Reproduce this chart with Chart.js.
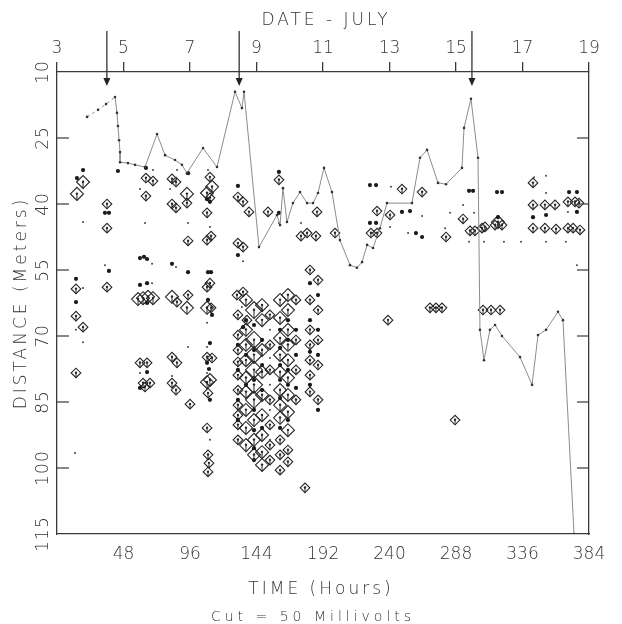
<!DOCTYPE html>
<html>
<head>
<meta charset="utf-8">
<script src="https://cdn.jsdelivr.net/npm/chart.js@4.4.0/dist/chart.umd.min.js"></script>
<style>
  html, body { margin: 0; padding: 0; background: #fff; }
  #wrap { width: 622px; height: 624px; }
</style>
</head>
<body>
<div id="wrap"><canvas id="c" width="622" height="624"></canvas></div>
<script>
// Axis ticks: hours since 00:00 on 3 July, calendar day, depth in metres
const hourTicks = [0, 48, 96, 144, 192, 240, 288, 336, 384];
const dateTicks = ['3', '5', '7', '9', '11', '13', '15', '17', '19'];
const distTicks = [10, 25, 40, 55, 70, 85, 100, 115];
const eventHours = [36, 131.5, 299.5];

// Continuous trace (hours, metres)
const traceHours = [21.7, 29.6, 35.4, 41.9, 43.3, 44.0, 44.8, 45.5, 45.5, 51.2, 56.3, 63.5, 72.2, 78.0, 85.2, 90.2, 93.8, 105.4, 115.5, 128.5, 133.5, 135.0, 145.8, 158.8, 161.0, 163.1, 166.0, 170.3, 175.4, 180.5, 184.8, 188.4, 192.7, 198.5, 204.2, 211.5, 216.5, 220.2, 223.8, 228.1, 233.1, 238.2, 256.2, 262.0, 267.1, 275.0, 280.8, 292.3, 293.8, 298.8, 303.9, 305.3, 308.2, 312.5, 316.2, 321.2, 334.2, 342.9, 347.2, 353.0, 361.6, 365.2, 373.2];
const traceDist = [20.2, 18.6, 17.3, 15.7, 19.3, 22.3, 25.5, 28.2, 30.5, 30.7, 31.1, 31.6, 24.1, 28.9, 30.0, 31.1, 33.0, 27.3, 31.6, 14.5, 18.2, 14.5, 49.8, 42.5, 44.8, 36.4, 44.1, 39.8, 37.3, 39.8, 39.8, 37.5, 31.8, 37.3, 48.2, 53.9, 54.5, 53.2, 49.3, 50.0, 45.5, 39.8, 39.8, 29.5, 27.7, 35.2, 35.5, 31.8, 22.7, 16.1, 29.5, 68.6, 75.5, 68.6, 67.5, 70.0, 74.8, 81.1, 69.8, 68.6, 64.5, 66.4, 115];

// Weak returns: [hour, metres]
const weakReturns = [
  [18.8,44.1],[18.8,59.1],[13.7,68.6],[18.8,71.4],[13.0,96.6],[34.6,53.9],[69.3,32.3],[59.9,36.6],[63.5,44.3],
  [68.6,53.6],[68.6,58.0],[59.9,78.4],[86.6,32.3],[81.6,36.6],[85.9,54.3],[83.0,79.1],[94.6,44.3],[94.6,72.5],
  [109.0,32.3],[110.4,45.2],[108.3,67.0],[108.3,72.5],[108.3,78.4],[134.3,53.0],[133.5,63.4],[160.2,44.3],
  [176.1,44.3],[240.4,45.2],[241.1,36.1],[253.4,46.6],[263.5,42.7],[280.1,45.5],[283.7,42.0],[293.1,40.2],
  [301.0,42.0],[344.3,33.9],[353.0,33.6],[353.0,37.5],[368.8,41.8],[110.4,93.6],
  [153.7,68.6],[153.7,75.0],[153.7,81.1],[153.7,86.8],[153.7,93.6],
  [297.4,48.6],[308.2,48.6],[322.6,48.6],[334.9,48.6],[352.9,48.6],[367.3,48.6],[375.3,53.9]
];

// Moderate returns: [hour, metres]
const moderateReturns = [
  [18.8,32.3],[14.4,34.1],[34.6,42.0],[37.5,42.0],[37.5,55.2],[44.0,32.5],[64.2,31.8],[59.9,52.3],[62.8,52.0],
  [65.0,52.5],[59.9,58.4],[65.0,58.0],[65.0,62.5],[65.0,78.2],[59.9,81.8],[13.7,57.0],[13.7,62.3],[83.0,53.6],
  [94.6,33.0],[94.6,55.5],[108.3,38.9],[110.4,39.5],[109.0,55.5],[111.2,55.5],[109.0,61.8],[111.9,65.2],
  [110.4,71.6],[108.3,76.1],[109.7,77.5],[130.6,35.9],[130.6,51.6],[134.3,68.0],[160.2,32.7],[160.2,42.0],
  [225.9,35.7],[230.3,35.7],[225.9,44.3],[230.3,44.3],[249.0,41.8],[254.8,41.6],[259.1,46.6],[263.5,47.5],
  [297.4,37.0],[300.3,37.0],[317.6,37.3],[321.2,37.3],[318.3,43.0],[343.6,43.0],[353.0,42.5],[369.6,37.3],
  [375.3,37.3],[375.3,41.8],[110.4,84.5],
  [130.6,72.0],[130.6,77.7],[130.6,84.5],[130.6,89.1],[136.4,66.4],[136.4,74.3],[136.4,81.1],
  [142.2,67.5],[142.2,73.2],[142.2,80.0],[142.2,86.8],[142.2,91.4],[142.2,95.5],[142.2,98.2],
  [148.0,70.9],[148.0,76.6],[148.0,82.3],[148.0,90.9],
  [161.0,68.6],[161.0,72.7],[161.0,76.6],[161.0,80.0],[161.0,84.1],[161.0,90.9],
  [166.7,66.4],[166.7,70.9],[166.7,77.7],[166.7,81.1],[166.7,89.1],
  [172.5,68.6],[172.5,74.3],[172.5,81.8],[182.6,58.0],[182.6,66.4],[182.6,73.6],[182.6,81.1],
  [188.4,60.7],[188.4,68.6],[188.4,74.3],[188.4,86.8]
];

// Strong returns, three amplitude classes: [hour, metres]
const strongSmall = [
  [36.1,40.0],[36.1,45.5],[36.1,58.9],[13.7,59.3],[13.7,65.5],[18.8,68.0],[13.7,78.4],[64.2,34.1],[69.3,34.8],
  [64.2,38.2],[59.9,76.1],[65.0,76.1],[62.1,80.7],[67.1,80.7],[63.5,81.6],[83.0,34.3],[85.9,35.0],[83.0,40.0],
  [85.9,40.9],[86.6,62.3],[83.0,74.8],[86.6,76.1],[83.0,80.7],[85.9,82.3],[93.8,39.8],[94.6,48.4],[94.6,60.7],
  [110.4,33.9],[110.4,38.6],[108.3,42.0],[111.2,47.3],[108.3,48.2],[110.4,58.0],[108.3,58.9],[111.2,63.6],
  [108.3,74.8],[111.9,75.0],[130.6,38.4],[134.3,39.5],[138.6,41.8],[130.6,48.9],[134.3,49.8],[129.9,60.7],
  [134.3,60.0],[130.6,65.2],[137.1,66.4],[160.2,34.5],[152.3,41.8],[176.1,47.3],[180.5,46.6],[186.9,47.3],
  [187.7,41.8],[200.7,46.6],[231.0,41.6],[226.6,46.6],[231.0,46.6],[240.4,42.5],[249.0,36.6],[263.5,37.3],
  [280.8,47.5],[293.1,43.4],[298.1,46.1],[301.7,46.1],[306.8,45.5],[308.9,45.2],[316.2,44.8],[321.2,44.8],
  [343.6,35.2],[343.6,40.2],[352.2,40.2],[359.5,40.2],[343.6,45.5],[352.2,45.5],[360.2,45.7],[368.8,39.5],
  [373.9,39.5],[376.8,39.8],[368.8,45.5],[372.5,45.5],[377.5,45.9],
  [109.0,83.0],[108.3,90.9],[109.0,97.0],[109.7,98.9],[109.0,100.9],[96.0,85.5],
  [130.6,69.8],[130.6,73.2],[130.6,75.9],[130.6,78.9],[130.6,82.3],[130.6,85.7],[130.6,88.0],[130.6,90.2],[130.6,93.6],
  [153.7,65.2],[153.7,72.0],[153.7,77.7],[153.7,84.5],[153.7,90.2],[153.7,94.8],[153.7,98.2],
  [161.0,93.6],[161.0,97.0],[161.0,100.5],[166.7,95.9],[166.7,98.6],
  [172.5,61.8],[172.5,70.9],[172.5,77.7],[172.5,84.5],
  [182.6,55.0],[182.6,61.8],[182.6,68.6],[182.6,72.0],[182.6,75.5],[182.6,78.9],[182.6,82.7],
  [188.4,57.3],[188.4,64.1],[188.4,70.9],[188.4,76.6],[188.4,84.5],[179.0,104.5],
  [238.9,66.4],[269.2,63.6],[273.5,63.6],[277.9,63.6],[287.3,89.1],[307.5,64.1],[313.3,64.1],[319.8,64.1]
];
const strongMedium = [
  [14.4,37.7],[18.8,35.0],[58.5,61.6],[62.1,61.4],[65.7,61.1],[69.3,61.4],[83.0,61.1],[93.8,37.7],[93.8,63.6],
  [111.9,36.1],[108.3,37.5],[108.3,63.6],[110.4,80.0],[108.3,80.5],[318.3,44.1],
  [136.4,61.8],[136.4,68.6],[136.4,72.0],[136.4,75.5],[136.4,79.5],[136.4,82.7],[136.4,86.8],[136.4,90.9],[136.4,94.8],
  [142.2,89.1],[142.2,93.6],[142.2,97.0],
  [148.0,63.0],[148.0,66.4],[148.0,73.2],[148.0,78.2],[148.0,83.4],[148.0,88.0],[148.0,92.5],[148.0,96.4],[148.0,99.3],
  [161.0,61.8],[161.0,65.9],[161.0,70.5],[161.0,74.3],[161.0,78.2],[161.0,82.3],[161.0,85.7],[161.0,88.6],
  [166.7,60.7],[166.7,64.1],[166.7,68.6],[166.7,72.0],[166.7,75.5],[166.7,79.5],[166.7,83.4],[166.7,87.3],[166.7,91.4]
];
const strongLarge = [
  [142.2,64.1],[142.2,70.9],[142.2,74.3],[142.2,77.7],[142.2,81.1],[142.2,84.5]
];

const INK = '#262626';
const FONT = '"DejaVu Sans", "Liberation Sans", sans-serif';
const toXY = arr => arr.map(p => ({ x: p[0], y: p[1] }));

// Each open diamond carries a centre dot with a stem down to its lower corner
const diamondStems = {
  id: 'diamondStems',
  afterDatasetsDraw(chart) {
    const ctx = chart.ctx;
    ctx.save();
    ctx.strokeStyle = INK;
    ctx.fillStyle = INK;
    ctx.lineWidth = 1;
    chart.data.datasets.forEach((ds, i) => {
      if (!ds.stem) return;
      chart.getDatasetMeta(i).data.forEach(pt => {
        const r = ds.pointRadius;
        ctx.beginPath(); ctx.moveTo(pt.x, pt.y); ctx.lineTo(pt.x, pt.y + r); ctx.stroke();
        ctx.beginPath(); ctx.arc(pt.x, pt.y - 0.3, 1.2, 0, Math.PI * 2); ctx.fill();
      });
    });
    ctx.restore();
  }
};

// Frame ticks, rotated depth labels, titles and event arrows
const decorations = {
  id: 'decorations',
  afterDraw(chart) {
    const { ctx, chartArea: a, scales } = chart;
    const y = scales.y, x = scales.x;
    ctx.save();
    ctx.strokeStyle = '#3a3a3a';
    ctx.lineWidth = 1.2;
    distTicks.forEach(v => {
      if (v === 10 || v === 115) return;
      const py = y.getPixelForValue(v);
      ctx.beginPath(); ctx.moveTo(a.left, py); ctx.lineTo(a.left + 12, py); ctx.stroke();
      ctx.beginPath(); ctx.moveTo(a.right, py); ctx.lineTo(a.right - 12, py); ctx.stroke();
    });
    ctx.fillStyle = '#333';
    ctx.font = '300 17px ' + FONT;
    ctx.textAlign = 'center';
    ctx.textBaseline = 'middle';
    ctx.letterSpacing = '1px';
    distTicks.forEach(v => {
      const py = y.getPixelForValue(v);
      ctx.save();
      ctx.translate(44, py);
      ctx.rotate(-Math.PI / 2);
      ctx.fillText(String(v), 0, 0);
      ctx.restore();
    });
    ctx.letterSpacing = '3px';
    ctx.font = '300 17px ' + FONT;
    ctx.fillText('DATE - JULY', 326, 21);
    ctx.fillText('TIME (Hours)', 321, 590);
    ctx.save();
    ctx.translate(22, (a.top + a.bottom) / 2);
    ctx.rotate(-Math.PI / 2);
    ctx.fillText('DISTANCE (Meters)', 0, 0);
    ctx.restore();
    ctx.letterSpacing = '4px';
    ctx.font = '300 14px ' + FONT;
    ctx.fillText('Cut = 50 Millivolts', 313, 617);
    ctx.letterSpacing = '0px';
    ctx.fillStyle = '#222';
    ctx.strokeStyle = '#333';
    ctx.lineWidth = 1.3;
    eventHours.forEach(h => {
      const px = x.getPixelForValue(h);
      ctx.beginPath(); ctx.moveTo(px, 31); ctx.lineTo(px, 80); ctx.stroke();
      ctx.beginPath(); ctx.moveTo(px - 3.5, 78); ctx.lineTo(px + 3.5, 78); ctx.lineTo(px, 86); ctx.closePath(); ctx.fill();
    });
    ctx.restore();
  }
};

const tickFont = { family: FONT, size: 17, weight: 300 };
const diamondSet = (label, arr, r) => ({
  label, data: toXY(arr), stem: true,
  pointStyle: 'rectRot', pointRadius: r,
  pointBackgroundColor: 'rgba(255,255,255,0)', pointBorderColor: INK, pointBorderWidth: 1.1
});

new Chart(document.getElementById('c'), {
  type: 'scatter',
  data: {
    datasets: [
      {
        label: 'trace',
        data: traceHours.map((h, i) => ({ x: h, y: traceDist[i] })),
        showLine: true,
        borderColor: '#8c8c8c',
        borderWidth: 1,
        pointRadius: 1.3,
        pointBackgroundColor: '#333',
        pointBorderWidth: 0,
        segment: { borderDash: c => (c.p1DataIndex <= 3 ? [3, 3] : undefined) }
      },
      { label: 'weak', data: toXY(weakReturns), pointRadius: 1, pointBackgroundColor: '#444', pointBorderWidth: 0 },
      { label: 'moderate', data: toXY(moderateReturns), pointRadius: 2.1, pointBackgroundColor: '#1a1a1a', pointBorderWidth: 0 },
      diamondSet('strong-s', strongSmall, 4.8),
      diamondSet('strong-m', strongMedium, 6.5),
      diamondSet('strong-l', strongLarge, 8.5)
    ]
  },
  options: {
    responsive: false,
    animation: false,
    devicePixelRatio: 1,
    layout: { padding: 0 },
    plugins: { legend: { display: false }, tooltip: { enabled: false } },
    scales: {
      x: {
        type: 'linear', position: 'bottom', min: 0, max: 384,
        afterBuildTicks: s => { s.ticks = hourTicks.map(v => ({ value: v })); },
        afterFit: s => { s.height = 90; },
        grid: { display: false, drawTicks: false },
        border: { display: true, color: '#3a3a3a', width: 1.3 },
        ticks: { color: '#333', font: tickFont, padding: 10, maxRotation: 0, callback: v => (v === 0 ? '' : String(v)) }
      },
      x2: {
        type: 'linear', position: 'top', min: 0, max: 384,
        afterBuildTicks: s => { s.ticks = hourTicks.map(v => ({ value: v })); },
        afterFit: s => { s.height = 72; },
        grid: { display: true, drawOnChartArea: false, drawTicks: true, tickLength: 10, color: '#3a3a3a', lineWidth: 1.3 },
        border: { display: true, color: '#3a3a3a', width: 1.3 },
        ticks: { color: '#333', font: tickFont, padding: 3, maxRotation: 0, callback: (v, i) => dateTicks[i] }
      },
      y: {
        type: 'linear', position: 'left', min: 10, max: 115, reverse: true,
        afterBuildTicks: s => { s.ticks = distTicks.map(v => ({ value: v })); },
        afterFit: s => { s.width = 57; },
        grid: { display: false, drawTicks: false },
        border: { display: true, color: '#3a3a3a', width: 1.3 },
        ticks: { display: false }
      },
      y2: {
        type: 'linear', position: 'right', min: 10, max: 115, reverse: true, display: true,
        afterFit: s => { s.width = 33; },
        grid: { display: false, drawTicks: false },
        border: { display: true, color: '#3a3a3a', width: 1.3 },
        ticks: { display: false }
      }
    }
  },
  plugins: [diamondStems, decorations]
});
</script>
</body>
</html>
